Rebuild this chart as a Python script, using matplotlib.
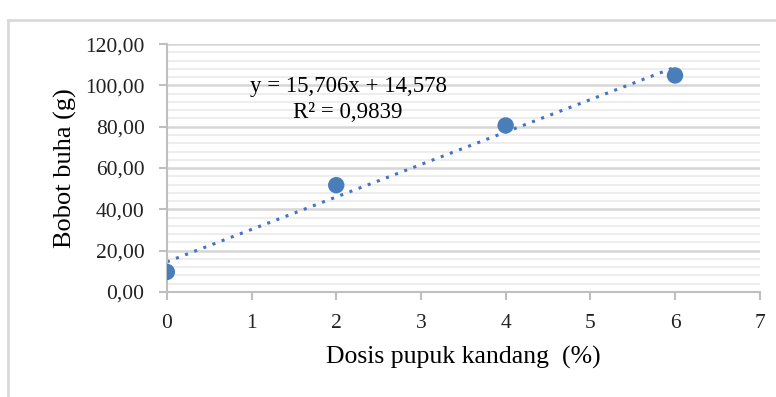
import numpy as np
import matplotlib.pyplot as plt
from matplotlib.lines import Line2D

# Data
dosis = [0, 2, 4, 6]
bobot = [9.7, 51.7, 80.6, 104.8]
slope = 15.706
intercept = 14.578
y_ticks = [0, 20, 40, 60, 80, 100, 120]
x_ticks = [0, 1, 2, 3, 4, 5, 6, 7]

plt.rcParams['font.family'] = ['Liberation Serif', 'DejaVu Serif']

fig = plt.figure(figsize=(7.76, 3.97), dpi=100)
ax = fig.add_axes([0.215, 0.2645, 0.764, 0.6245])

# light frame around the figure
fig.add_artist(Line2D([8 / 776, 8 / 776], [0, 1 - 20 / 397], color='#D9D9D9', lw=2))
fig.add_artist(Line2D([8 / 776, 1], [1 - 20 / 397, 1 - 20 / 397], color='#D9D9D9', lw=2))

# gridlines: major every 20, minor every 4
ax.set_yticks(y_ticks)
ax.set_yticks(np.arange(0, 121, 4), minor=True)
ax.grid(axis='y', which='major', color='#D6D6D6', lw=1.8, zorder=0)
ax.grid(axis='y', which='minor', color='#EDEDED', lw=1.5, zorder=0)
ax.tick_params(axis='y', which='minor', length=0)

# trendline
xt = np.array([dosis[0], dosis[-1]])
ax.plot(xt, slope * xt + intercept, linestyle=(0, (1, 2.2)), color='#4472C4', lw=2.2, zorder=2)
ax.scatter(dosis, bobot, s=140, color='#4A7EBB', zorder=3, edgecolors='none')

ax.text(2.14, 93, 'y = 15,706x + 14,578\nR² = 0,9839', ha='center', va='center',
        fontsize=16.5, multialignment='center', linespacing=1.3)

ax.set_xlim(0, 7)
ax.set_ylim(0, 120)
ax.set_xticks(x_ticks)
ax.set_yticklabels([f'{v:.2f}'.replace('.', ',') for v in y_ticks])

for s in ['top', 'right']:
    ax.spines[s].set_visible(False)
for s in ['left', 'bottom']:
    ax.spines[s].set_color('#BFBFBF')
    ax.spines[s].set_linewidth(1.5)
ax.tick_params(axis='both', which='major', color='#BFBFBF', length=6, width=1.5,
               labelsize=15.5, colors='#BFBFBF', labelcolor='#222222')
ax.tick_params(axis='y', pad=10)
ax.tick_params(axis='x', pad=10)

ax.set_xlabel('Dosis pupuk kandang  (%)', fontsize=18.5, labelpad=9)
ax.set_ylabel('Bobot buha (g)', fontsize=19, labelpad=6)

plt.savefig('out.png', dpi=100)
